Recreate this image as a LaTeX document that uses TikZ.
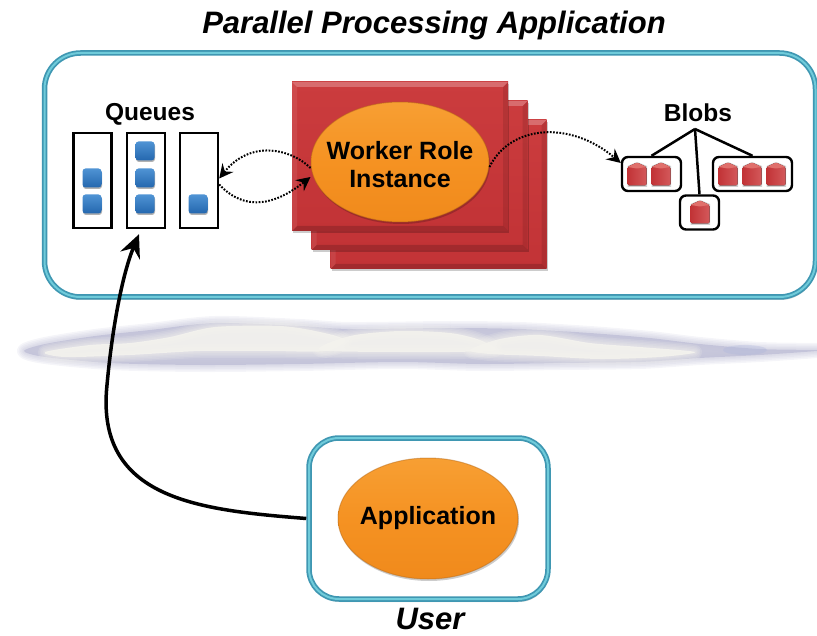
\documentclass[tikz,border=0pt]{standalone}
\usepackage{fontspec}
\setmainfont{Liberation Sans}
\usetikzlibrary{arrows.meta,shadows,calc,shapes.geometric}
\definecolor{frameout}{HTML}{3F97B2}
\definecolor{framein}{HTML}{6FCBDA}
\definecolor{cloudbase}{HTML}{C2C2D8}
\definecolor{cloudblue}{HTML}{AEB6DC}
\definecolor{cloudwhite}{HTML}{F4F3EE}
\definecolor{redtop}{HTML}{CB3C3E}
\definecolor{redbot}{HTML}{C23336}
\definecolor{blobtop}{HTML}{E0706C}
\definecolor{orangetop}{HTML}{F79F33}
\definecolor{orangemid}{HTML}{F59222}
\definecolor{orangebot}{HTML}{F08A1C}
\definecolor{msgtop}{HTML}{4F93D4}
\definecolor{msgbot}{HTML}{2467AE}
\tikzset{
  x=1pt,y=-1pt,
  softshadow/.style={general shadow={shadow xshift=1pt,shadow yshift=-3pt,fill=black,opacity=.16}},
  framebox/.style={rectangle,rounded corners=#1,fill=white,inner sep=0pt,softshadow,
    draw=frameout,line width=5.5pt,postaction={draw=framein,line width=2pt}},
  redcard/.style={rectangle,inner sep=0pt,minimum width=216pt,minimum height=149pt,
    top color=redtop,bottom color=redbot,
    general shadow={shadow xshift=1pt,shadow yshift=-2pt,fill=black,opacity=.2},
    path picture={
      \coordinate (nw) at (path picture bounding box.north west);
      \coordinate (ne) at (path picture bounding box.north east);
      \coordinate (sw) at (path picture bounding box.south west);
      \coordinate (se) at (path picture bounding box.south east);
      \fill[white,opacity=.25] (nw) -- (ne) -- ($(ne)+(-5,5)$) -- ($(nw)+(5,5)$) -- cycle;
      \fill[white,opacity=.08] (nw) -- (sw) -- ($(sw)+(5,-5)$) -- ($(nw)+(5,5)$) -- cycle;
      \fill[black,opacity=.10] (ne) -- (se) -- ($(se)+(-5,-5)$) -- ($(ne)+(-5,5)$) -- cycle;
      \fill[black,opacity=.16] (sw) -- (se) -- ($(se)+(-5,-5)$) -- ($(sw)+(5,-5)$) -- cycle;
    }},
  orangeball/.style={ellipse,inner sep=0pt,top color=orangetop,bottom color=orangebot,middle color=orangemid,
    draw=orangebot!75!black,draw opacity=.45,line width=1pt,
    general shadow={shadow xshift=1pt,shadow yshift=-2pt,fill=black,opacity=.2}},
  balltext/.style={inner sep=0pt,align=center,font=\bfseries\fontsize{25}{28}\selectfont},
  queuebox/.style={rectangle,draw=black,line width=2.4pt,fill=white,inner sep=0pt,minimum width=38pt,minimum height=95pt},
  msg/.style={rectangle,rounded corners=3pt,inner sep=0pt,minimum size=19pt,top color=msgtop,bottom color=msgbot,
    general shadow={shadow xshift=.5pt,shadow yshift=-1.5pt,fill=black,opacity=.3}},
  blobbox/.style={rectangle,rounded corners=6pt,draw=black,line width=2.4pt,fill=white,inner sep=0pt},
  blobdb/.pic={
    \fill[black,opacity=.18] (-9.5,-8) -- (0,-12) -- (10,-8) -- (10,13) -- (-9.5,13) -- cycle;
    \fill[left color=redbot,right color=redtop!85!white,rounded corners=1.5pt] (-9.5,-7) -- (0,-11.5) -- (9.5,-7) -- (9.5,11.5) -- (-9.5,11.5) -- cycle;
    \fill[blobtop,rounded corners=.8pt] (-9.5,-7) -- (0,-11.5) -- (9.5,-7) -- (0,-5.5) -- cycle;
  },
  dotcurve/.style={line width=2pt,dash pattern=on 1.7pt off 1.5pt,-{Stealth[length=14pt,width=14pt,inset=5pt]}},
  labeltxt/.style={inner sep=0pt,font=\bfseries\fontsize{24.5}{28}\selectfont},
  titletxt/.style={inner sep=0pt,font=\bfseries\itshape\fontsize{31}{36}\selectfont},
  mainarrow/.style={line width=3.5pt,-{Stealth[length=23pt,width=21pt,inset=8pt]}},
  treeline/.style={line width=2.5pt},
}
\newcommand{\cloudshape}{plot[smooth cycle,tension=.5] coordinates {(24,351)(45,344)(95,336)(150,330)(215,323)(300,326)(350,329)(450,328)(520,329)(590,333)(650,338)(700,344)(760,349)(817,350)(817,351)(760,355)(700,358)(640,362)(560,363)(480,364)(400,362)(300,364)(200,365)(110,363)(45,357)}}
\newcommand{\cloudwhiteA}{plot[smooth cycle,tension=.5] coordinates {(45,352)(90,345)(130,343)(170,337)(215,327)(280,326)(320,332)(345,340)(325,351)(270,351)(200,351)(130,355)(65,357)}}
\newcommand{\cloudwhiteB}{plot[smooth cycle,tension=.5] coordinates {(320,350)(350,336)(400,331)(450,333)(480,340)(495,350)(450,352)(400,352)}}
\newcommand{\cloudwhiteC}{plot[smooth cycle,tension=.5] coordinates {(470,350)(500,339)(540,335)(590,343)(640,347)(695,352)(660,357)(600,359)(540,356)(490,354)}}
\newcommand{\softfill}[2]{\foreach \w in {14,11,8,5,3}{\draw[#1,line width=\w pt,opacity=.16,line join=round] #2;}\fill[#1,opacity=.9] #2;}
\begin{document}
\begin{tikzpicture}
\useasboundingbox (0,0) rectangle (817,636);
% main frame
\node[framebox=36pt,minimum width=771pt,minimum height=244pt] (frame) at (430,175) {};
% title
\node[titletxt] (title) at (434,25) {Parallel Processing Application};
% worker cards
\node[redcard] (card3) at (438.5,194.5) {};
\node[redcard] (card2) at (419.5,175.5) {};
\node[redcard] (card1) at (400,156.5) {};
\node[orangeball,minimum width=178pt,minimum height=120pt] (worker) at (400,162) {};
\node[balltext] (workertext) at (400,165) {Worker Role\\Instance};
% queues
\node[labeltxt] (qlabel) at (150,114) {Queues};
\node[queuebox] (q1) at (92.5,180.5) {};
\node[queuebox] (q2) at (146,180.5) {};
\node[queuebox] (q3) at (199,180.5) {};
\node[msg] (m1) at (92,178) {};
\node[msg] (m2) at (92,204) {};
\node[msg] (m3) at (145,151) {};
\node[msg] (m4) at (145,178) {};
\node[msg] (m5) at (145,204) {};
\node[msg] (m6) at (198,204) {};
% blobs
\node[labeltxt] (blabel) at (698,113) {Blobs};
\coordinate (treetop) at (695,129);
\node[blobbox,minimum width=59pt,minimum height=34pt] (b1) at (651.5,174) {};
\node[blobbox,minimum width=79pt,minimum height=34pt] (b2) at (752.5,174) {};
\node[blobbox,minimum width=39pt,minimum height=34pt] (b3) at (699.5,212.5) {};
\draw[treeline] (treetop) -- (b1.north);
\draw[treeline] (treetop) -- (b3.north);
\draw[treeline] (treetop) -- (b2.north);
\pic at (637,174) {blobdb};
\pic at (661,174) {blobdb};
\pic at (728,174) {blobdb};
\pic at (752,174) {blobdb};
\pic at (776,174) {blobdb};
\pic at (700,212) {blobdb};
% cloud
\softfill{cloudbase}{\cloudshape}
\softfill{cloudwhite}{\cloudwhiteA}
\softfill{cloudwhite}{\cloudwhiteB}
\softfill{cloudwhite}{\cloudwhiteC}
\fill[cloudblue,opacity=.35] (745,350) ellipse [x radius=22,y radius=5];
% user
\node[framebox=30pt,minimum width=239pt,minimum height=161pt] (user) at (428.5,518.5) {};
\node[orangeball,minimum width=180pt,minimum height=121pt] (app) at (428,518.5) {};
\node[balltext] (apptext) at (428,518) {Application};
\node[titletxt] (ulabel) at (430,619) {User};
% connectors
\coordinate (qin) at ($(q2.south)+(-7,5)$);
\draw[mainarrow] (user.west) .. controls (200,510) and (95,500) .. (107,385) .. controls (112,330) and (122,275) .. (qin);
\draw[dotcurve] ($(worker.west)+(0,6)$) .. controls (290,148) and (250,140) .. ($(q3.east)+(0,-2)$);
\draw[dotcurve] ($(q3.east)+(0,4)$) .. controls (245,212) and (275,205) .. ($(worker.west)+(0,15)$);
\draw[dotcurve] ($(worker.east)+(0,5)$) .. controls (510,125) and (570,120) .. ($(b1.west)+(0,-11)$);
\end{tikzpicture}
\end{document}
